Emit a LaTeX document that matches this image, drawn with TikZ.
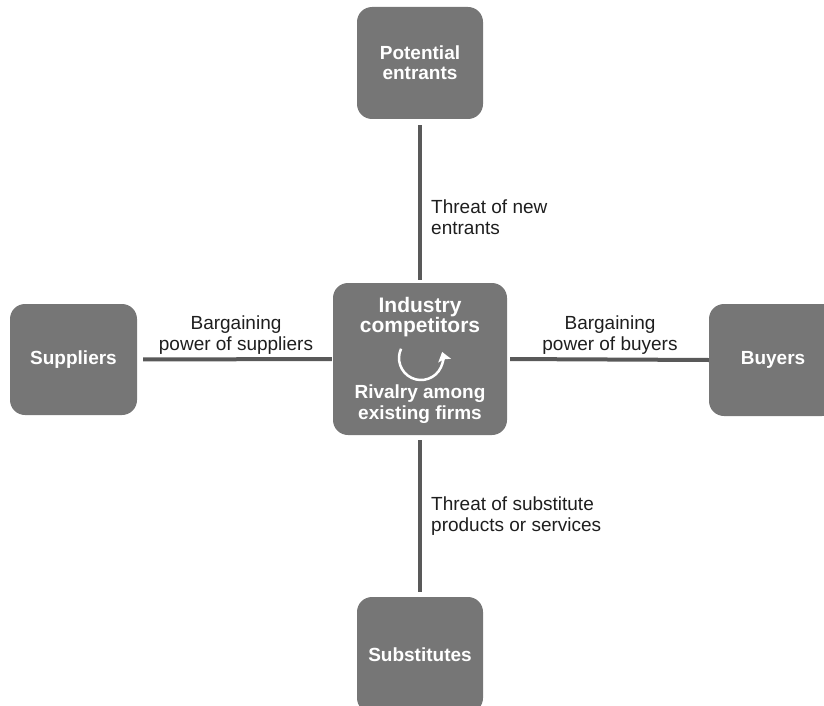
\documentclass[tikz,border=0pt]{standalone}
\usepackage{fontspec}
\setmainfont{Liberation Sans}
\usetikzlibrary{arrows.meta}
\definecolor{boxgray}{HTML}{767676}
\definecolor{linegray}{HTML}{595959}
\definecolor{labeltext}{HTML}{1E1E1E}
\begin{document}
\begin{tikzpicture}[x=1pt,y=-1pt,
  force/.style={fill=boxgray, rounded corners=15pt, draw=none, text=white,
    font=\bfseries\fontsize{19}{20}\selectfont, align=center, inner sep=0pt},
  link/.style={draw=linegray, line width=4pt},
  lbl/.style={text=labeltext, font=\fontsize{19}{20.5}\selectfont, inner sep=0pt}]
\useasboundingbox (0,0) rectangle (824,706);

% the five forces
\node[force, minimum width=126pt, minimum height=112pt] (pe) at (420,63) {Potential\\entrants};
\node[force, minimum width=127pt, minimum height=111pt] (sup) at (73.5,359.5) {Suppliers};
\node[force, minimum width=128pt, minimum height=112pt] (buy) at (773,360) {Buyers};
\node[force, minimum width=126pt, minimum height=116pt] (sub) at (420,655) {Substitutes};
\node[force, minimum width=174pt, minimum height=152pt] (ctr) at (420,359) {};

% text inside the centre box
\node[text=white, font=\bfseries\fontsize{21}{20.5}\selectfont, align=center, inner sep=0pt]
  (ctrtop) at (420,317) {Industry\\competitors};
\node[text=white, font=\bfseries\fontsize{19}{21.5}\selectfont, align=center, inner sep=0pt]
  (ctrbot) at (420,404) {Rivalry among\\existing firms};
% circular rivalry arrow
\coordinate (rivalc) at (421,358);
\draw[white, line width=2.5pt, -{Stealth[length=9pt,width=13pt,inset=1.5pt]}]
  (rivalc) ++(205:22) arc[start angle=205, end angle=-16, radius=22];

% connectors
\draw[link, shorten <=6pt, shorten >=3pt] (pe.south) -- (ctr.north);
\draw[link, shorten <=5pt, shorten >=5pt] (ctr.south) -- (sub.north);
\draw[link, shorten <=6pt, shorten >=1pt] (sup.east) -- (ctr.west);
\draw[link, shorten <=3pt, shorten >=0pt] (ctr.east) -- (buy.west);

% connector labels
\node[lbl, anchor=west, align=left] (newlbl) at (431,217) {Threat of new\\entrants};
\node[lbl, anchor=west, align=left] (sublbl) at (431,516) {Threat of substitute\\products or services};
\node[lbl, align=center] (suplbl) at (236,335) {Bargaining\\power of suppliers};
\node[lbl, align=center] (buylbl) at (610,335) {Bargaining\\power of buyers};
\end{tikzpicture}
\end{document}
